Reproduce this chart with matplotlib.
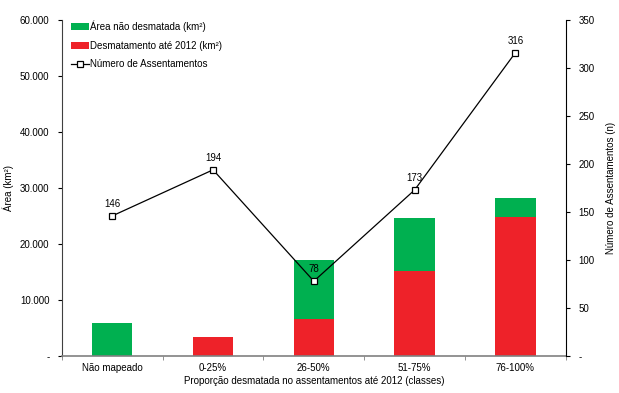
import numpy as np
import matplotlib
matplotlib.use("Agg")
import matplotlib.pyplot as plt
from matplotlib.ticker import FuncFormatter

plt.rcParams['font.family'] = ['Liberation Sans', 'DejaVu Sans']
plt.rcParams['font.size'] = 7

categorias = ['Não mapeado', '0-25%', '26-50%', '51-75%', '76-100%']
desmatamento = [0, 3400, 6600, 15200, 24800]
nao_desmatada = [5900, 0, 10500, 9400, 3400]
assentamentos = [146, 194, 78, 173, 316]

fig = plt.figure(figsize=(6.19, 3.93), dpi=100)
ax = fig.add_axes([0.1, 0.094, 0.814, 0.855])
x = np.arange(len(categorias))

ax.bar(x, nao_desmatada, 0.4, bottom=desmatamento, color='#00B050',
       label='Área não desmatada (km²)', zorder=2)
ax.bar(x, desmatamento, 0.4, color='#EE2229',
       label='Desmatamento até 2012 (km²)', zorder=2)

ax.set_xlim(-0.5, len(categorias) - 0.5)
ax.set_ylim(0, 60000)
ax.set_yticks(np.arange(0, 60001, 10000))

def fmt(v, pos):
    if v == 0:
        return '-'
    return f'{int(v):,}'.replace(',', '.')

ax.yaxis.set_major_formatter(FuncFormatter(fmt))
ax.set_xticks(x)
ax.set_xticklabels(categorias)
ax.set_xticks(np.arange(-0.5, len(categorias)), minor=True)
ax.tick_params(axis='x', which='major', length=0, pad=5)
ax.tick_params(axis='x', which='minor', length=3, color='#808080')
ax.tick_params(axis='y', length=3, pad=6)
ax.spines['top'].set_visible(False)
ax.spines['right'].set_visible(False)
ax.spines['bottom'].set_color('#808080')
ax.spines['bottom'].set_linewidth(1.2)
ax.spines['left'].set_color('#404040')
ax.set_ylabel('Área (km²)', labelpad=4)
ax.set_xlabel('Proporção desmatada no assentamentos até 2012 (classes)', labelpad=2)

ax2 = ax.twinx()
ax2.plot(x, assentamentos, color='black', lw=0.9, marker='s', markersize=5,
         markerfacecolor='white', markeredgecolor='black', markeredgewidth=0.9,
         label='Número de Assentamentos', zorder=3)
for xi, v in zip(x, assentamentos):
    ax2.annotate(str(v), (xi, v), xytext=(0, 5), textcoords='offset points',
                 ha='center', va='bottom', fontsize=7)
ax2.set_ylim(0, 350)
ax2.set_yticks(np.arange(0, 351, 50))
ax2.yaxis.set_major_formatter(FuncFormatter(lambda v, p: '-' if v == 0 else f'{int(v)}'))
ax2.tick_params(axis='y', length=3, pad=6)
ax2.spines['top'].set_visible(False)
ax2.spines['left'].set_visible(False)
ax2.spines['bottom'].set_visible(False)
ax2.set_ylabel('Número de Assentamentos (n)', labelpad=8)

h1, l1 = ax.get_legend_handles_labels()
h2, l2 = ax2.get_legend_handles_labels()
ax2.legend(h1 + h2, l1 + l2, loc='upper left', bbox_to_anchor=(0.0, 1.025),
           frameon=False, fontsize=7, handlelength=1.9, handletextpad=0.1,
           labelspacing=0.9)

fig.savefig('out.png', dpi=100)
